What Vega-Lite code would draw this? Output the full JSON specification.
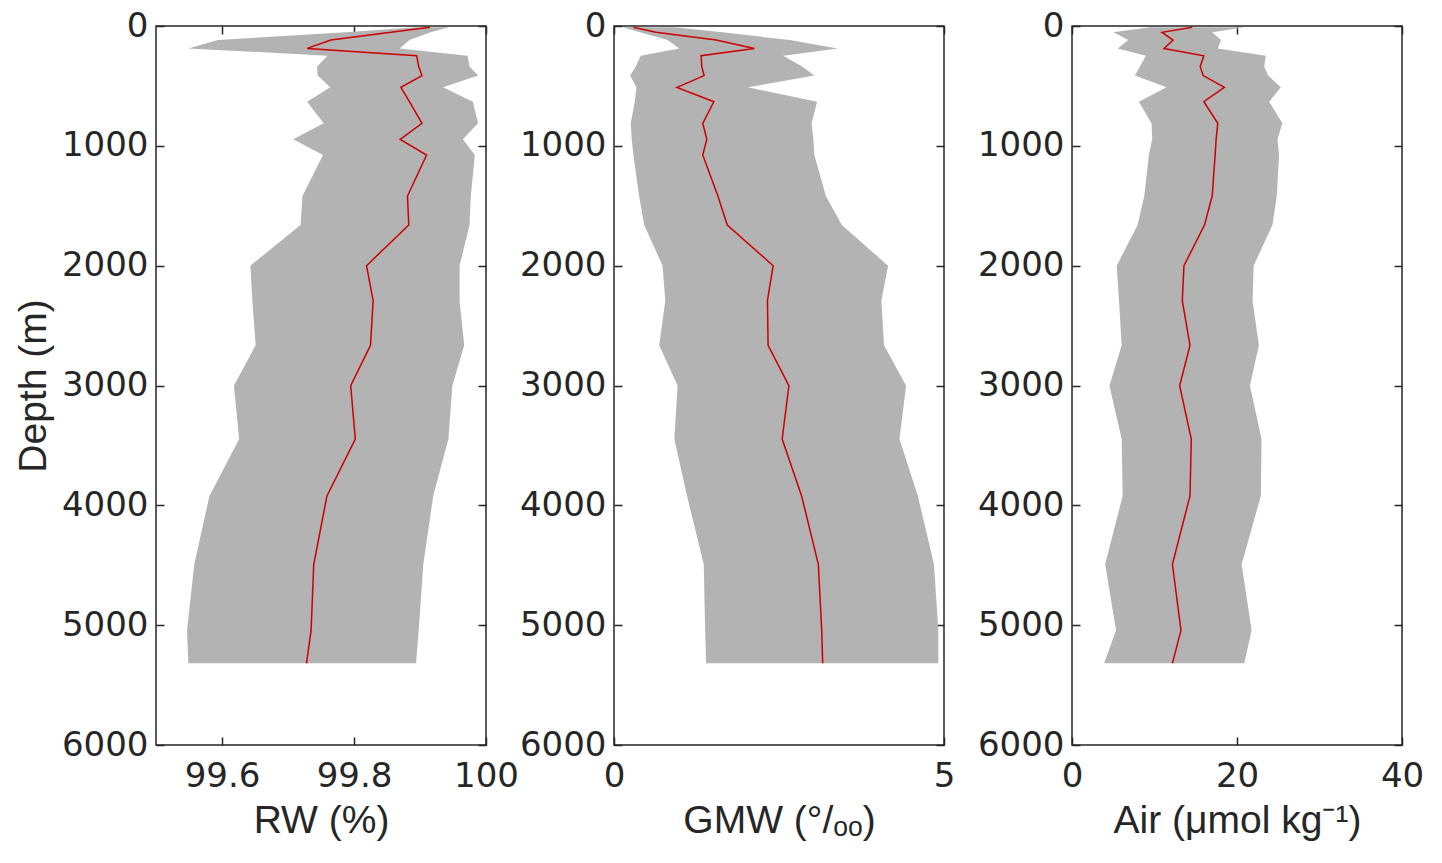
{
  "$schema": "https://vega.github.io/schema/vega-lite/v6.json",
  "autosize": {"type": "none"},
  "padding": {"left": 156, "top": 26, "right": 1286, "bottom": 837},
  "background": "white",
  "spacing": 128,
  "bounds": "flush",
  "data": {"values": [
    {"depth": 10, "rw_lo": 99.894, "rw_m": 99.915, "rw_hi": 99.944, "gmw_lo": 0.127, "gmw_m": 0.294, "gmw_hi": 0.91, "air_lo": 9.5, "air_m": 14.58, "air_hi": 20.9},
    {"depth": 53, "rw_lo": 99.788, "rw_m": 99.856, "rw_hi": 99.916, "gmw_lo": 0.396, "gmw_m": 0.635, "gmw_hi": 1.64, "air_lo": 5.02, "air_m": 10.92, "air_hi": 16.99},
    {"depth": 117, "rw_lo": 99.594, "rw_m": 99.765, "rw_hi": 99.884, "gmw_lo": 0.812, "gmw_m": 1.548, "gmw_hi": 2.66, "air_lo": 6.83, "air_m": 12.25, "air_hi": 18.07},
    {"depth": 187, "rw_lo": 99.549, "rw_m": 99.729, "rw_hi": 99.869, "gmw_lo": 0.99, "gmw_m": 2.127, "gmw_hi": 3.39, "air_lo": 5.54, "air_m": 11.16, "air_hi": 17.67},
    {"depth": 248, "rw_lo": 99.76, "rw_m": 99.895, "rw_hi": 99.972, "gmw_lo": 0.406, "gmw_m": 1.32, "gmw_hi": 2.563, "air_lo": 8.96, "air_m": 15.98, "air_hi": 23.49},
    {"depth": 339, "rw_lo": 99.744, "rw_m": 99.898, "rw_hi": 99.975, "gmw_lo": 0.33, "gmw_m": 1.33, "gmw_hi": 2.85, "air_lo": 8.23, "air_m": 15.54, "air_hi": 23.29},
    {"depth": 414, "rw_lo": 99.745, "rw_m": 99.903, "rw_hi": 99.988, "gmw_lo": 0.244, "gmw_m": 1.365, "gmw_hi": 3.035, "air_lo": 7.63, "air_m": 15.9, "air_hi": 23.78},
    {"depth": 512, "rw_lo": 99.764, "rw_m": 99.871, "rw_hi": 99.935, "gmw_lo": 0.34, "gmw_m": 0.954, "gmw_hi": 2.03, "air_lo": 11.45, "air_m": 18.47, "air_hi": 25.3},
    {"depth": 632, "rw_lo": 99.729, "rw_m": 99.884, "rw_hi": 99.98, "gmw_lo": 0.315, "gmw_m": 1.513, "gmw_hi": 3.076, "air_lo": 8.11, "air_m": 15.98, "air_hi": 23.9},
    {"depth": 812, "rw_lo": 99.754, "rw_m": 99.903, "rw_hi": 99.988, "gmw_lo": 0.254, "gmw_m": 1.345, "gmw_hi": 2.995, "air_lo": 9.64, "air_m": 17.67, "air_hi": 25.5},
    {"depth": 946, "rw_lo": 99.708, "rw_m": 99.87, "rw_hi": 99.965, "gmw_lo": 0.269, "gmw_m": 1.406, "gmw_hi": 3.02, "air_lo": 9.72, "air_m": 17.47, "air_hi": 24.9},
    {"depth": 1077, "rw_lo": 99.753, "rw_m": 99.91, "rw_hi": 99.983, "gmw_lo": 0.294, "gmw_m": 1.345, "gmw_hi": 3.036, "air_lo": 9.32, "air_m": 17.35, "air_hi": 25.1},
    {"depth": 1419, "rw_lo": 99.722, "rw_m": 99.881, "rw_hi": 99.977, "gmw_lo": 0.381, "gmw_m": 1.574, "gmw_hi": 3.21, "air_lo": 8.76, "air_m": 16.99, "air_hi": 24.82},
    {"depth": 1661, "rw_lo": 99.719, "rw_m": 99.883, "rw_hi": 99.975, "gmw_lo": 0.457, "gmw_m": 1.716, "gmw_hi": 3.452, "air_lo": 7.95, "air_m": 16.06, "air_hi": 24.3},
    {"depth": 2000, "rw_lo": 99.643, "rw_m": 99.819, "rw_hi": 99.96, "gmw_lo": 0.736, "gmw_m": 2.411, "gmw_hi": 4.152, "air_lo": 5.42, "air_m": 13.57, "air_hi": 22.01},
    {"depth": 2292, "rw_lo": 99.646, "rw_m": 99.829, "rw_hi": 99.96, "gmw_lo": 0.777, "gmw_m": 2.325, "gmw_hi": 4.051, "air_lo": 5.7, "air_m": 13.37, "air_hi": 21.89},
    {"depth": 2665, "rw_lo": 99.651, "rw_m": 99.825, "rw_hi": 99.967, "gmw_lo": 0.685, "gmw_m": 2.335, "gmw_hi": 4.091, "air_lo": 6.02, "air_m": 14.3, "air_hi": 22.65},
    {"depth": 3002, "rw_lo": 99.618, "rw_m": 99.795, "rw_hi": 99.949, "gmw_lo": 0.964, "gmw_m": 2.65, "gmw_hi": 4.426, "air_lo": 4.54, "air_m": 13.05, "air_hi": 21.57},
    {"depth": 3447, "rw_lo": 99.626, "rw_m": 99.802, "rw_hi": 99.943, "gmw_lo": 0.914, "gmw_m": 2.548, "gmw_hi": 4.325, "air_lo": 6.02, "air_m": 14.46, "air_hi": 22.97},
    {"depth": 3922, "rw_lo": 99.581, "rw_m": 99.759, "rw_hi": 99.92, "gmw_lo": 1.107, "gmw_m": 2.843, "gmw_hi": 4.604, "air_lo": 6.14, "air_m": 14.3, "air_hi": 22.89},
    {"depth": 4492, "rw_lo": 99.558, "rw_m": 99.739, "rw_hi": 99.905, "gmw_lo": 1.36, "gmw_m": 3.096, "gmw_hi": 4.848, "air_lo": 4.02, "air_m": 12.17, "air_hi": 20.56},
    {"depth": 5043, "rw_lo": 99.547, "rw_m": 99.735, "rw_hi": 99.898, "gmw_lo": 1.381, "gmw_m": 3.147, "gmw_hi": 4.914, "air_lo": 5.34, "air_m": 13.21, "air_hi": 21.77},
    {"depth": 5318, "rw_lo": 99.549, "rw_m": 99.728, "rw_hi": 99.894, "gmw_lo": 1.396, "gmw_m": 3.162, "gmw_hi": 4.914, "air_lo": 3.9, "air_m": 12.17, "air_hi": 20.88}
  ]},
  "hconcat": [
    {
      "width": 330, "height": 719,
      "layer": [
        {
          "mark": {"type": "area", "orient": "horizontal", "color": "#b3b3b3", "opacity": 1},
          "encoding": {
            "y": {"field": "depth", "type": "quantitative", "scale": {"domain": [0, 6000], "reverse": true, "nice": false},
                  "axis": {"orient": "left", "values": [0, 1000, 2000, 3000, 4000, 5000, 6000], "format": "d", "title": "Depth (m)", "titlePadding": 8}},
            "x": {"field": "rw_lo", "type": "quantitative", "scale": {"domain": [99.5, 100], "nice": false, "zero": false},
                  "axis": {"orient": "bottom", "values": [99.6, 99.8, 100], "format": ".1~f", "title": "RW (%)", "titlePadding": 8}},
            "x2": {"field": "rw_hi"}
          }
        },
        {
          "mark": {"type": "line", "color": "#cc0000", "strokeWidth": 1.5},
          "encoding": {
            "y": {"field": "depth", "type": "quantitative", "axis": {"orient": "right", "values": [0, 1000, 2000, 3000, 4000, 5000, 6000], "labels": false, "title": null}},
            "x": {"field": "rw_m", "type": "quantitative", "axis": {"orient": "top", "values": [99.6, 99.8, 100], "labels": false, "title": null}},
            "order": {"field": "depth", "type": "quantitative"}
          }
        }
      ],
      "resolve": {"axis": {"x": "independent", "y": "independent"}}
    },
    {
      "width": 330, "height": 719,
      "layer": [
        {
          "mark": {"type": "area", "orient": "horizontal", "color": "#b3b3b3", "opacity": 1},
          "encoding": {
            "y": {"field": "depth", "type": "quantitative", "scale": {"domain": [0, 6000], "reverse": true, "nice": false},
                  "axis": {"orient": "left", "values": [0, 1000, 2000, 3000, 4000, 5000, 6000], "format": "d", "title": null}},
            "x": {"field": "gmw_lo", "type": "quantitative", "scale": {"domain": [0, 5], "nice": false},
                  "axis": {"orient": "bottom", "values": [0, 5], "title": "GMW (°/ₒₒ)", "titlePadding": 8}},
            "x2": {"field": "gmw_hi"}
          }
        },
        {
          "mark": {"type": "line", "color": "#cc0000", "strokeWidth": 1.5},
          "encoding": {
            "y": {"field": "depth", "type": "quantitative", "axis": {"orient": "right", "values": [0, 1000, 2000, 3000, 4000, 5000, 6000], "labels": false, "title": null}},
            "x": {"field": "gmw_m", "type": "quantitative", "axis": {"orient": "top", "values": [0, 5], "labels": false, "title": null}},
            "order": {"field": "depth", "type": "quantitative"}
          }
        }
      ],
      "resolve": {"axis": {"x": "independent", "y": "independent"}}
    },
    {
      "width": 330, "height": 719,
      "layer": [
        {
          "mark": {"type": "area", "orient": "horizontal", "color": "#b3b3b3", "opacity": 1},
          "encoding": {
            "y": {"field": "depth", "type": "quantitative", "scale": {"domain": [0, 6000], "reverse": true, "nice": false},
                  "axis": {"orient": "left", "values": [0, 1000, 2000, 3000, 4000, 5000, 6000], "format": "d", "title": null}},
            "x": {"field": "air_lo", "type": "quantitative", "scale": {"domain": [0, 40], "nice": false},
                  "axis": {"orient": "bottom", "values": [0, 20, 40], "title": "Air (μmol kg⁻¹)", "titlePadding": 8}},
            "x2": {"field": "air_hi"}
          }
        },
        {
          "mark": {"type": "line", "color": "#cc0000", "strokeWidth": 1.5},
          "encoding": {
            "y": {"field": "depth", "type": "quantitative", "axis": {"orient": "right", "values": [0, 1000, 2000, 3000, 4000, 5000, 6000], "labels": false, "title": null}},
            "x": {"field": "air_m", "type": "quantitative", "axis": {"orient": "top", "values": [0, 20, 40], "labels": false, "title": null}},
            "order": {"field": "depth", "type": "quantitative"}
          }
        }
      ],
      "resolve": {"axis": {"x": "independent", "y": "independent"}}
    }
  ],
  "config": {
    "view": {"stroke": "#262626", "strokeWidth": 1.5},
    "axis": {
      "labelFont": "DejaVu Sans", "titleFont": "Liberation Sans",
      "labelFontSize": 34, "titleFontSize": 39, "titleFontWeight": "normal",
      "labelColor": "#262626", "titleColor": "#262626",
      "tickColor": "#262626", "tickSize": -8, "tickWidth": 1.5,
      "domain": false, "grid": false, "labelFlush": false, "labelOverlap": false,
      "labelPadding": 16
    },
    "axisBottom": {"labelPadding": 22}
  }
}
